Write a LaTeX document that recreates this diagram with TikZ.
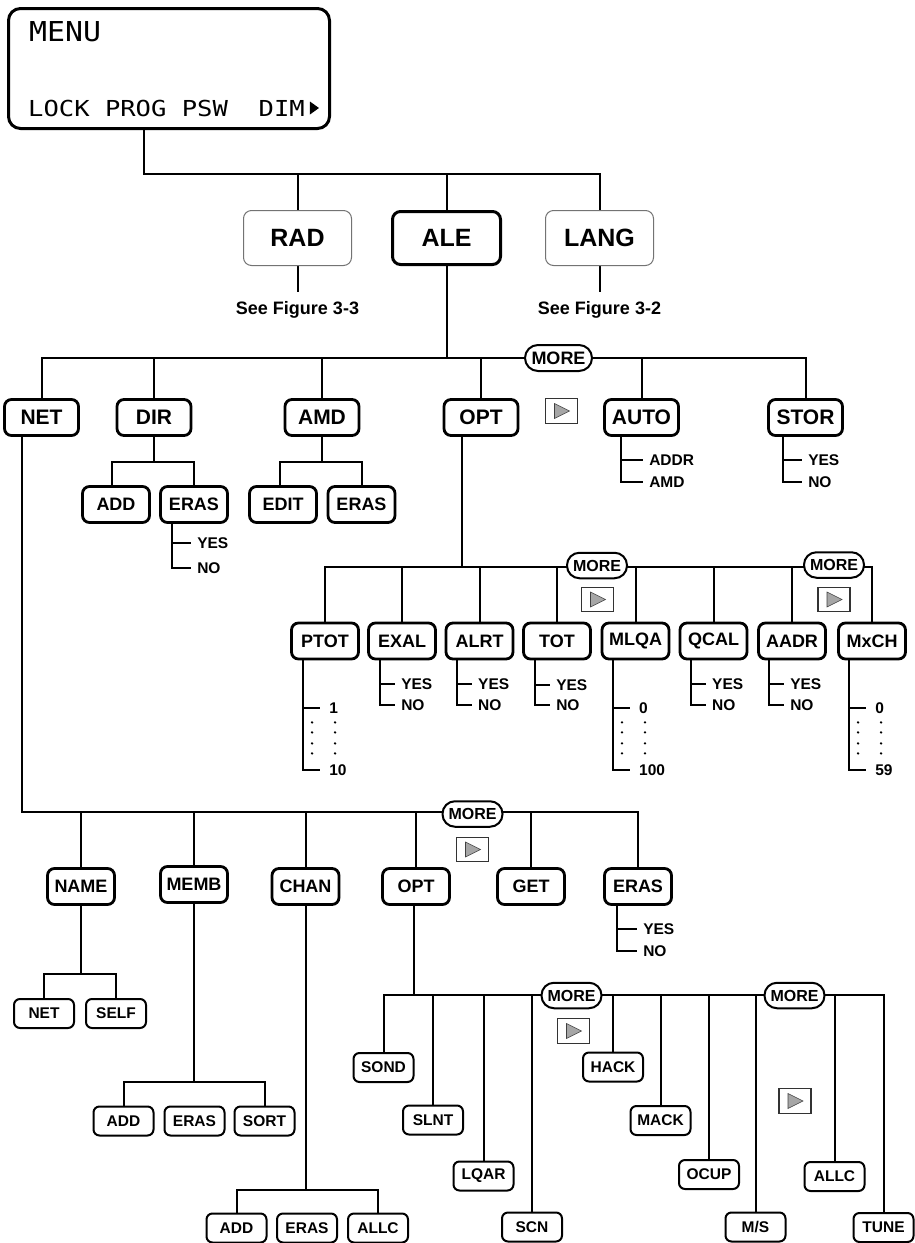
\documentclass[tikz,border=0pt]{standalone}
\usepackage{fontspec}
\setmainfont{Liberation Sans}
\newfontfamily\lcdA[FakeStretch=1.09]{DejaVu Sans Mono}
\newfontfamily\lcdB[FakeStretch=1.16]{DejaVu Sans Mono}
\usetikzlibrary{backgrounds}
% two-choice list under a box
\newcommand\yesno[7]{%
  \draw[conn] ([xshift=#2]#1.south west) coordinate (#1-s) -- ++(0,#4) coordinate (#1-nc) -- ++(#5,0) coordinate (#1-ne);
  \draw[conn] (#1-s) ++(0,#3) coordinate (#1-yc) -- ++(#5,0) coordinate (#1-ye);
  \node[lbl,anchor=west] (#1-yt) at ([xshift=6]#1-ye) {#6};
  \node[lbl,anchor=west] (#1-nt) at ([xshift=6]#1-ne) {#7};
}
% value range list under a box
\newcommand\valrange[4]{%
  \draw[conn] ([xshift=#2]#1.south west) coordinate (#1-s) -- ++(0,109.6) coordinate (#1-bc) -- ++(17,0) coordinate (#1-be);
  \draw[conn] (#1-s) ++(0,47.6) coordinate (#1-tc) -- ++(17,0) coordinate (#1-te);
  \foreach \yy in {62,72,83,93} {\fill (#1-s) ++(9,\yy) circle (1.3pt); \fill (#1-s) ++(32,\yy) circle (1.3pt);}
  \node[lbl,anchor=west] (#1-ft) at ([xshift=9]#1-te) {#3};
  \node[lbl,anchor=west] (#1-lt) at ([xshift=9]#1-be) {#4};
}
% "next page" marker box
\newcommand\nextbox[3]{%
  \node[nxt] (#1) at (#2,#3) {};
  \fill[black!35, draw=black!75, line width=0.6] ({#2-7},{#3-7.5}) -- ({#2+8},{#3}) -- ({#2-7},{#3+7.5}) -- cycle;
}
\begin{document}
\begin{tikzpicture}[x=1pt,y=-1pt,
  conn/.style={line width=2},
  bx/.style={draw, line width=2.8, rounded corners=7, inner sep=0, minimum width=67, minimum height=36, font=\fontsize{18}{18}\selectfont\bfseries},
  bxtop/.style={bx, minimum width=74, font=\fontsize{21}{21}\selectfont\bfseries},
  bxref/.style={draw=black!55, line width=1, rounded corners=8, inner sep=0, minimum width=108, minimum height=55, font=\fontsize{25}{25}\selectfont\bfseries},
  bxale/.style={bxref, draw=black, line width=3, minimum height=53},
  bxs/.style={draw, line width=2, rounded corners=6, inner sep=0, minimum width=60, minimum height=29, font=\fontsize{15.5}{15.5}\selectfont\bfseries},
  more/.style={draw, line width=2, rounded corners=12.5, fill=white, inner sep=0, minimum width=60, minimum height=25.5, font=\fontsize{16}{16}\selectfont\bfseries},
  moreL/.style={more, rounded corners=13, minimum width=67, minimum height=26, font=\fontsize{18}{18}\selectfont\bfseries},
  lbl/.style={inner sep=0, font=\fontsize{15.5}{15.5}\selectfont\bfseries},
  fig/.style={inner sep=0, font=\fontsize{18}{18}\selectfont\bfseries},
  nxt/.style={draw=black!80, line width=1.2, minimum width=32, minimum height=24.5, inner sep=0},
]
\useasboundingbox (0,0) rectangle (914,1243);

% ---------- level 0 : display ----------
\node[draw, line width=3, rounded corners=12, inner sep=0, minimum width=321, minimum height=120] (menu) at (169,68.5) {};
\node[anchor=west, inner sep=0, font=\lcdA\fontsize{27.4}{27.4}\selectfont] (menut) at (29,32) {MENU};
\node[anchor=west, inner sep=0, font=\lcdB\fontsize{22}{22}\selectfont] (menuk) at (28,108) {LOCK PROG PSW\ \ DIM};
\fill ([xshift=5,yshift=-6.5]menuk.east) -- ++(9,-6.5) -- ++(-9,-6.5) -- cycle;

% ---------- level 1 ----------
\node[bxref] (rad) at (297.5,238) {RAD};
\node[bxale] (ale) at (446.5,238) {ALE};
\node[bxref] (lang) at (599.5,238) {LANG};
\node[fig] (f33) at (297.5,310) {See Figure 3-3};
\node[fig] (f32) at (599.5,310) {See Figure 3-2};

% ---------- level 2 ----------
\node[bxtop] (net) at (41.5,417.5) {NET};
\node[bxtop] (dir) at (154,417.5) {DIR};
\node[bxtop] (amd) at (322,417.5) {AMD};
\node[bxtop] (opt) at (481,417.5) {OPT};
\node[bxtop] (auto) at (641.5,417.5) {AUTO};
\node[bxtop] (stor) at (805.5,417.5) {STOR};
\node[moreL] (more2) at (558.5,358) {MORE};
\nextbox{nx2}{561.5}{411}

% DIR / AMD children
\node[bx] (dadd) at (116,504.5) {ADD};
\node[bx] (deras) at (194,504.5) {ERAS};
\node[bx] (aedit) at (283,504.5) {EDIT};
\node[bx] (aeras) at (361.5,504.5) {ERAS};

% ---------- level 3 : OPT children ----------
\node[bx] (ptot) at (325,641) {PTOT};
\node[bx] (exal) at (402,641) {EXAL};
\node[bx] (alrt) at (479.5,641) {ALRT};
\node[bx] (tot) at (557,641) {TOT};
\node[bx] (mlqa) at (635.5,641) {MLQA};
\node[bx] (qcal) at (713.5,641) {QCAL};
\node[bx] (aadr) at (792,641) {AADR};
\node[bx] (mxch) at (872,641) {MxCH};
\node[more] (more3a) at (597,565.5) {MORE};
\node[more] (more3b) at (834,565) {MORE};
\nextbox{nx3a}{597.5}{599.5}
\nextbox{nx3b}{834}{599.5}

% ---------- level 4 : NET children ----------
\node[bx] (name) at (81,886.5) {NAME};
\node[bx] (memb) at (194,884.5) {MEMB};
\node[bx] (chan) at (305.5,886.5) {CHAN};
\node[bx] (opt4) at (416,886.5) {OPT};
\node[bx] (get) at (531,886.5) {GET};
\node[bx] (eras4) at (638,886.5) {ERAS};
\node[more] (more4) at (472.5,814) {MORE};
\nextbox{nx4}{472.5}{849.5}

% NAME / MEMB / CHAN children
\node[bxs] (nnet) at (44,1013.5) {NET};
\node[bxs] (nself) at (116,1013.5) {SELF};
\node[bxs] (madd) at (123.5,1121) {ADD};
\node[bxs] (meras) at (194.5,1121) {ERAS};
\node[bxs] (msort) at (264.5,1121) {SORT};
\node[bxs] (cadd) at (236.5,1228) {ADD};
\node[bxs] (ceras) at (307,1228) {ERAS};
\node[bxs] (callc) at (378,1228) {ALLC};

% ---------- level 5 : NET OPT children ----------
\node[bxs] (sond) at (383.5,1067.5) {SOND};
\node[bxs] (slnt) at (433,1120) {SLNT};
\node[bxs] (lqar) at (483.5,1176) {LQAR};
\node[bxs] (scn) at (532,1227) {SCN};
\node[bxs] (hack) at (613,1067) {HACK};
\node[bxs] (mack) at (660.5,1120.5) {MACK};
\node[bxs] (ocup) at (709,1174.5) {OCUP};
\node[bxs] (ms) at (755.5,1227) {M/S};
\node[bxs] (allc5) at (834.5,1176.5) {ALLC};
\node[bxs] (tune) at (883.5,1227.5) {TUNE};
\node[more] (more5a) at (571.5,995.5) {MORE};
\node[more] (more5b) at (794.5,995.5) {MORE};
\nextbox{nx5a}{573.5}{1031}
\nextbox{nx5b}{795}{1101}

% ---------- connectors ----------
\begin{pgfonlayer}{background}
\coordinate (b1) at (0,174);
\coordinate (m0) at ([xshift=-25]menu.south);
\draw[conn] (m0) -- (m0 |- b1) -| (lang.north);
\draw[conn] (rad.north) -- (rad.north |- b1);
\draw[conn] (ale.north) -- (ale.north |- b1);
\coordinate (f33t) at ([yshift=9]f33.north);
\coordinate (f32t) at ([yshift=9]f32.north);
\draw[conn] (rad.south) -- (f33t);
\draw[conn] (lang.south) -- (f32t);

\coordinate (b2) at (0,358);
\draw[conn] (ale.south) -- (ale.south |- b2);
\draw[conn] (net.north) |- (stor.north |- b2) -- (stor.north);
\foreach \n in {dir,amd,opt,auto} {\draw[conn] (\n.north) -- (\n.north |- b2);}

\coordinate (b3a) at (0,462);
\draw[conn] (dir.south) -- (dir.south |- b3a);
\draw[conn] ([xshift=-4]dadd.north) |- (deras.north |- b3a) -- (deras.north);
\draw[conn] (amd.south) -- (amd.south |- b3a);
\draw[conn] ([xshift=-3]aedit.north) |- (aeras.north |- b3a) -- (aeras.north);

\yesno{deras}{13}{19}{44}{19}{YES}{NO}
\yesno{auto}{18}{23}{45}{22}{ADDR}{AMD}
\yesno{stor}{16}{23}{45}{19}{YES}{NO}

\coordinate (b3) at (0,567);
\coordinate (o0) at ([xshift=-19]opt.south);
\draw[conn] (o0) -- (o0 |- b3);
\draw[conn] (ptot.north) |- (mxch.north |- b3) -- (mxch.north);
\foreach \n in {exal,alrt,tot,mlqa,qcal,aadr} {\draw[conn] (\n.north) -- (\n.north |- b3);}

\yesno{exal}{13}{23.6}{44.6}{15}{YES}{NO}
\yesno{alrt}{12.4}{23.6}{44.6}{15}{YES}{NO}
\yesno{tot}{13}{24.5}{44.6}{15}{YES}{NO}
\yesno{qcal}{12.4}{23.6}{44.6}{15}{YES}{NO}
\yesno{aadr}{12}{23.6}{44.6}{15}{YES}{NO}
\valrange{ptot}{13}{1}{10}
\valrange{mlqa}{12.4}{0}{100}
\valrange{mxch}{12}{0}{59}

\coordinate (b4) at (0,812);
\coordinate (n0) at ([xshift=-19.5]net.south);
\draw[conn] (n0) |- (eras4.north |- b4) -- (eras4.north);
\foreach \n in {name,memb,chan,opt4,get} {\draw[conn] (\n.north) -- (\n.north |- b4);}
\yesno{eras4}{14}{23}{45}{20}{YES}{NO}

\coordinate (b5a) at (0,974);
\draw[conn] (name.south) -- (name.south |- b5a);
\draw[conn] (nnet.north) |- (nself.north |- b5a) -- (nself.north);
\coordinate (b5b) at (0,1082);
\draw[conn] (memb.south) -- (memb.south |- b5b);
\draw[conn] (madd.north) |- (msort.north |- b5b) -- (msort.north);
\coordinate (b5c) at (0,1190);
\draw[conn] (chan.south) -- (chan.south |- b5c);
\draw[conn] (cadd.north) |- (callc.north |- b5c) -- (callc.north);

\coordinate (b5) at (0,995);
\coordinate (o4) at ([xshift=-2]opt4.south);
\draw[conn] (o4) -- (o4 |- b5);
\draw[conn] (sond.north) |- (tune.north |- b5) -- (tune.north);
\foreach \n in {slnt,lqar,scn,hack,mack,ocup,ms,allc5} {\draw[conn] (\n.north) -- (\n.north |- b5);}
\end{pgfonlayer}
\end{tikzpicture}
\end{document}
